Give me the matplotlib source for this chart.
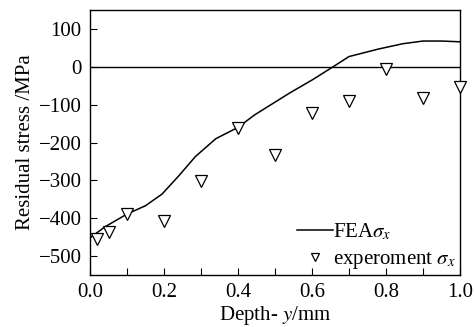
import matplotlib
matplotlib.use("Agg")
from matplotlib import pyplot as plt
from matplotlib.ticker import MultipleLocator

# FEA curve
fea_depth = [0.0, 0.04, 0.10, 0.15, 0.195, 0.24, 0.285, 0.34, 0.40, 0.445,
             0.54, 0.60, 0.657, 0.70, 0.78, 0.846, 0.90, 0.95, 1.0]
fea_stress = [-452, -423, -389, -367, -336, -288, -237, -190, -160, -127,
              -69, -35, 0, 27, 47, 61, 68, 68, 66]

# measured points
exp_depth = [0.02, 0.05, 0.1, 0.2, 0.3, 0.4, 0.5, 0.6, 0.7, 0.8, 0.9, 1.0]
exp_stress = [-455, -436, -388, -407, -303, -162, -233, -122, -90, -5, -82, -53]

plt.rcParams['font.family'] = ['Liberation Serif', 'DejaVu Serif']
plt.rcParams['mathtext.fontset'] = 'stix'
plt.rcParams['font.size'] = 15


def display():
    fig = plt.figure(figsize=(4.75, 3.27), dpi=100)
    ax = fig.add_axes([90 / 475, 1 - 275 / 327, 370 / 475, 265 / 327])

    ax.axhline(0, color='black', lw=1.0)
    ax.plot(fea_depth, fea_stress, color='black', lw=1.1, label=r'FEA$\sigma_x$')
    ax.plot(exp_depth, exp_stress, ls='none', marker='v', ms=8.5, mfc='white',
            mec='black', mew=0.9, clip_on=False, zorder=5,
            label=r'experoment $\sigma_x$')

    ax.set_xlim(0, 1.0)
    ax.set_ylim(-550, 150)
    ax.xaxis.set_major_locator(MultipleLocator(0.2))
    ax.xaxis.set_minor_locator(MultipleLocator(0.1))
    ax.yaxis.set_major_locator(MultipleLocator(100))
    ax.xaxis.set_major_formatter(plt.FuncFormatter(lambda v, p: f"{v:.1f}"))
    ax.yaxis.set_major_formatter(
        plt.FuncFormatter(lambda v, p: f"{int(v)}".replace('-', '\u2212')))
    ax.tick_params(direction='in', length=5, width=0.8, pad=6,
                   top=False, right=False)
    ax.tick_params(which='minor', direction='in', length=5, width=0.8,
                   top=False, right=False)
    for s in ax.spines.values():
        s.set_linewidth(1.0)

    ax.set_xlabel(r'Depth- $y$/mm', labelpad=1)
    ax.set_ylabel('Residual stress /MPa', labelpad=3)

    ax.legend(loc='lower right', frameon=False, handlelength=1.75,
              handletextpad=0.0, markerscale=0.6, borderaxespad=0.0,
              borderpad=0.2, labelspacing=0.35)

    fig.savefig("out.png", dpi=100)


if __name__ == "__main__":
    display()
